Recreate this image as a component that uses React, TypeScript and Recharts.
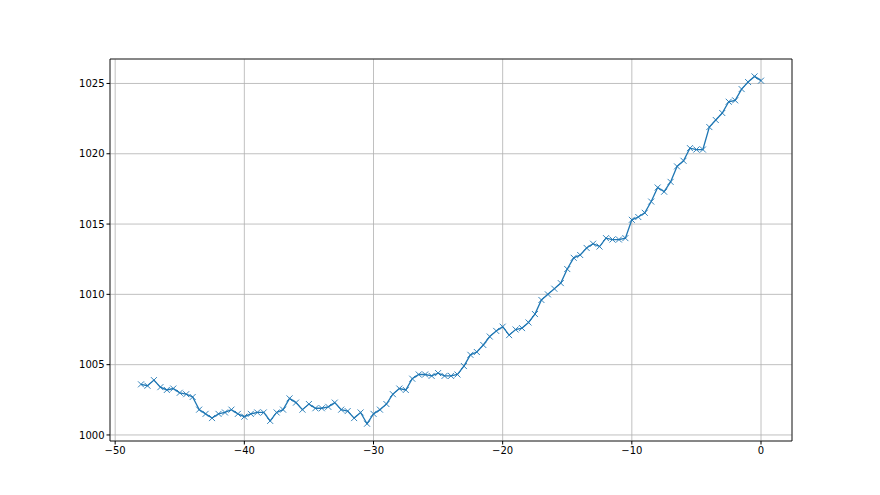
import { LineChart, Line, XAxis, YAxis, CartesianGrid, ReferenceLine } from 'recharts';

const xValues: number[] = [];
for (let i = 0; i <= 96; i++) xValues.push(-48 + i * 0.5);

const pressure = [
  1003.6, 1003.5, 1003.9, 1003.4, 1003.2, 1003.3, 1003.0, 1002.9, 1002.7, 1001.8,
  1001.5, 1001.2, 1001.5, 1001.6, 1001.8, 1001.5, 1001.3, 1001.5, 1001.6, 1001.6,
  1001.0, 1001.6, 1001.8, 1002.6, 1002.3, 1001.8, 1002.2, 1001.9, 1001.9, 1002.0,
  1002.3, 1001.8, 1001.7, 1001.2, 1001.6, 1000.8, 1001.5, 1001.8, 1002.2, 1002.9,
  1003.3, 1003.2, 1004.0, 1004.3, 1004.3, 1004.2, 1004.4, 1004.2, 1004.2, 1004.3,
  1004.9, 1005.7, 1005.9, 1006.4, 1007.0, 1007.4, 1007.7, 1007.1, 1007.5, 1007.6,
  1008.0, 1008.6, 1009.6, 1010.0, 1010.4, 1010.8, 1011.8, 1012.6, 1012.8, 1013.3,
  1013.6, 1013.4, 1014.0, 1013.9, 1013.9, 1014.0, 1015.3, 1015.5, 1015.8, 1016.6,
  1017.6, 1017.3, 1018.0, 1019.1, 1019.5, 1020.4, 1020.3, 1020.3, 1021.9, 1022.4,
  1022.9, 1023.7, 1023.8, 1024.6, 1025.1, 1025.5, 1025.2,
];

const xTicks = [-50, -40, -30, -20, -10, 0];
const yTicks = [1000, 1005, 1010, 1015, 1020, 1025];
const xDomain = [-50.4, 2.4];
const yDomain = [999.57, 1026.74];

const data = xValues.map((x, i) => ({ x, y: pressure[i] }));

const fmt = (v: number) => String(v).replace('-', '\u2212');

const tickStyle = { fontSize: 10, fill: '#000', fontFamily: 'DejaVu Sans' };

const XMark = (props: any) => {
  const { cx, cy, index } = props;
  if (cx == null || cy == null) return <g key={index} />;
  const s = 3;
  return (
    <path
      key={index}
      d={`M${cx - s},${cy - s}L${cx + s},${cy + s}M${cx - s},${cy + s}L${cx + s},${cy - s}`}
      stroke="#1f77b4"
      strokeWidth={0.9}
      fill="none"
    />
  );
};

export default function App() {
  return (
    <div style={{ position: 'absolute', left: 0, top: 0, background: '#fff' }}>
      <LineChart
        width={880}
        height={495}
        data={data}
        margin={{ top: 59, right: 88, left: 0, bottom: 0 }}
      >
        <CartesianGrid stroke="#b0b0b0" strokeWidth={0.8} />
        <XAxis
          dataKey="x"
          type="number"
          domain={xDomain}
          ticks={xTicks}
          tickFormatter={fmt}
          allowDataOverflow
          height={54}
          tick={tickStyle}
          tickSize={3.5}
          stroke="#000"
          tickLine={{ stroke: '#000' }}
          axisLine={{ stroke: '#000', strokeWidth: 0.8 }}
        />
        <YAxis
          type="number"
          domain={yDomain}
          ticks={yTicks}
          allowDataOverflow
          width={110}
          tick={tickStyle}
          tickSize={3.5}
          stroke="#000"
          tickLine={{ stroke: '#000' }}
          axisLine={{ stroke: '#000', strokeWidth: 0.8 }}
        />
        <ReferenceLine y={yDomain[1]} stroke="#000" strokeWidth={0.8} />
        <ReferenceLine x={xDomain[1]} stroke="#000" strokeWidth={0.8} />
        <Line
          type="linear"
          dataKey="y"
          stroke="#1f77b4"
          strokeWidth={1.3}
          dot={XMark}
          activeDot={false}
          isAnimationActive={false}
        />
      </LineChart>
    </div>
  );
}
